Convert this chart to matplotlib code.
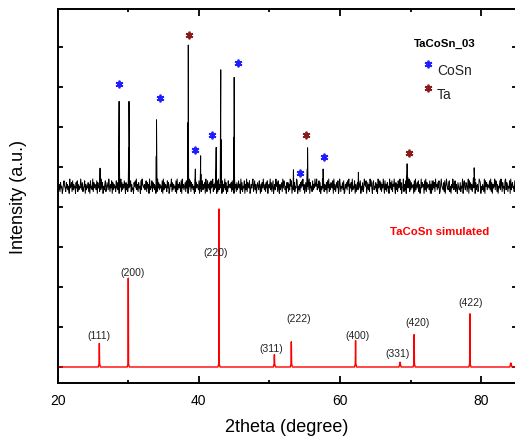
import numpy as np
import matplotlib
matplotlib.use("Agg")
import matplotlib.pyplot as plt
from matplotlib.ticker import MultipleLocator

plt.rcParams['font.family'] = ['Liberation Sans', 'DejaVu Sans']

# ---------------- data ----------------
# measured pattern (TaCoSn_03), offset baseline + noise levels read from picture
meas_baseline = 4.52
meas_noise_digits = (
    "45362745136854274635194572836451748263549637245816"
    "35472618453927465381745263947153682475395264817364"
    "52847361459273648517362947582634175849362745183965"
    "46358274619354827463518294736452819374652847136592"
    "73645281936475281946357284613958274635192746538174"
    "25836471952846371845926374518293647518264937152846"
    "64728351946273584619372548163927548136479258361475"
    "38516274953627481564937258146395728416357294863517"
    "47263958146372549815362748593614728536917452836495"
    "59364827153948265371849263754819362574813962547381"
    "26473859164729354816257394681537249658147362958417"
    "83547261945837264951836274519473826594173628459371"
    "45926381754692837456182935748261394756183927456381"
    "61838472956374812695437281596437825164973582641753"
    "37254916843762591847362594817356249871536429185736"
    "54839271645938726154839627451893762548193674528391"
)
meas_peak_pos = [26.0, 28.7, 30.1, 34.0, 38.5, 39.5, 40.25, 42.45, 43.1, 45.0,
                 53.4, 55.4, 57.6, 62.6, 69.5, 79.0]
meas_peak_int = [4.97, 6.64, 6.64, 6.18, 8.05, 4.95, 5.28, 5.49, 7.43, 7.24,
                 4.93, 5.48, 4.95, 4.87, 5.08, 4.98]
meas_peak_wid = [0.10, 0.12, 0.12, 0.12, 0.12, 0.10, 0.10, 0.10, 0.12, 0.12,
                 0.10, 0.12, 0.10, 0.10, 0.30, 0.35]

# phase markers
cosn_x = [28.73, 34.49, 39.49, 41.86, 45.58, 54.32, 57.72]
cosn_y = [7.08, 6.73, 5.43, 5.80, 7.60, 4.85, 5.26]
ta_x = [38.56, 55.17, 69.76]
ta_y = [8.31, 5.80, 5.35]

# simulated pattern
sim_pos = [25.9, 30.0, 42.85, 50.7, 53.1, 62.2, 68.5, 70.5, 78.4, 84.2]
sim_int = [0.59, 2.22, 3.95, 0.31, 0.63, 0.66, 0.12, 0.81, 1.33, 0.10]
sim_labels = ["(111)", "(200)", "(220)", "(311)", "(222)", "(400)", "(331)", "(420)", "(422)", ""]
sim_label_x = [25.8, 30.6, 42.4, 50.2, 54.1, 62.5, 68.2, 71.0, 78.5, 0]
sim_label_y = [0.80, 2.38, 2.88, 0.48, 1.23, 0.80, 0.35, 1.13, 1.63, 0]

xmin, xmax = 20, 85

# ---------------- figure ----------------
fig = plt.figure(figsize=(5.15, 4.39), dpi=100)
W, H = 515, 439
left_px, right_px, top_px, bot_px = 57.7, 516.5, 10, 384
ax = fig.add_axes([left_px / W, (H - bot_px) / H, (right_px - left_px) / W, (bot_px - top_px) / H])

# measured curve
noise = np.array([int(c) for c in meas_noise_digits], dtype=float)
xn = np.linspace(xmin, xmax, len(noise))
yn = meas_baseline + (noise - 5.0) * 0.045
xs = list(xn)
ys = list(yn)
for p, h, w in zip(meas_peak_pos, meas_peak_int, meas_peak_wid):
    xs += [p - w, p - w * 0.3, p, p + w * 0.3, p + w]
    ys += [meas_baseline, meas_baseline + (h - meas_baseline) * 0.45, h,
           meas_baseline + (h - meas_baseline) * 0.4, meas_baseline]
order = np.argsort(xs, kind="stable")
ax.plot(np.array(xs)[order], np.array(ys)[order], color="black", lw=0.7)

# simulated curve
sx = [xmin]
sy = [0.0]
for p, h in zip(sim_pos, sim_int):
    sx += [p - 0.15, p - 0.04, p, p + 0.04, p + 0.15]
    sy += [0.0, 0.08, h, 0.08, 0.0]
sx.append(xmax)
sy.append(0.0)
ax.plot(sx, sy, color="#ff0000", lw=1.0)

for lab, lx, ly in zip(sim_labels, sim_label_x, sim_label_y):
    if lab:
        ax.text(lx, ly, lab, ha="center", va="center", fontsize=7.5, color="#222222")

ax.text(74.15, 3.4, "TaCoSn simulated", color="#ff0000", fontsize=8.2, fontweight="bold",
        ha="center", va="center")

# markers
mk = dict(ls="none", marker=(6, 2, 0), ms=5.5, mew=1.3)
ax.plot(cosn_x, cosn_y, color="#1e1eff", **mk)
ax.plot(ta_x, ta_y, color="#8b1a1a", **mk)

# legend-ish texts
ax.text(74.86, 8.10, "TaCoSn_03", fontsize=8.2, fontweight="bold", ha="center", va="center")
ax.plot([72.5], [7.58], color="#1e1eff", **mk)
ax.text(73.77, 7.43, "CoSn", fontsize=10, ha="left", va="center", color="#222222")
ax.plot([72.5], [6.97], color="#8b1a1a", **mk)
ax.text(73.77, 6.83, "Ta", fontsize=10, ha="left", va="center", color="#222222")

# axes style
ax.set_xlim(xmin, xmax)
ax.set_ylim(-0.4, 8.95)
ax.xaxis.set_major_locator(MultipleLocator(20))
ax.xaxis.set_minor_locator(MultipleLocator(10))
ax.yaxis.set_major_locator(MultipleLocator(1))
ax.tick_params(axis="x", which="major", direction="in", length=5, width=1.3, top=True,
               labelsize=10, pad=7)
ax.tick_params(axis="x", which="minor", direction="in", length=2.5, width=1.3, top=True)
ax.tick_params(axis="y", which="major", direction="in", length=3.6, width=1.3, right=True,
               labelleft=False)
for s in ax.spines.values():
    s.set_linewidth(1.4)

ax.set_xlabel("2theta (degree)", fontsize=13)
ax.xaxis.set_label_coords(0.5, -0.1176)
ax.xaxis.label.set_va("center")
ax.set_ylabel("Intensity (a.u.)", fontsize=13)
ax.yaxis.set_label_coords(-0.0865, 0.5)
ax.yaxis.label.set_va("center")

fig.savefig("out.png", dpi=100)
